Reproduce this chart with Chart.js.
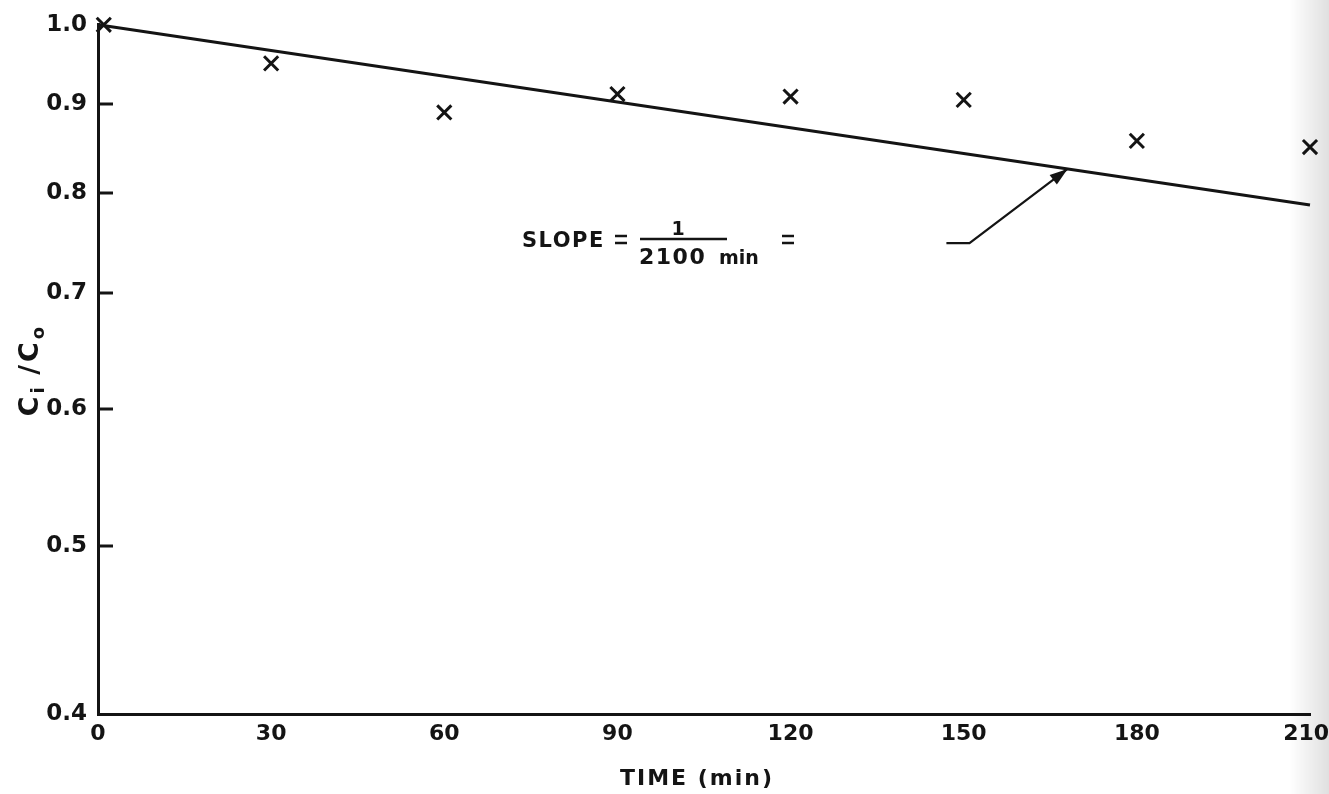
<!DOCTYPE html>
<html lang="en">
<head>
<meta charset="UTF-8">
<title>Ci/Co versus time</title>
<style>
  html, body { margin: 0; padding: 0; background: #fff; }
  body { width: 1329px; height: 794px; overflow: hidden; position: relative; }
  #edge { position: absolute; right: 0; top: 0; width: 40px; height: 794px;
          background: linear-gradient(to right, rgba(0,0,0,0), rgba(0,0,0,0.12));
          pointer-events: none; }
</style>
</head>
<body>
<canvas id="chart" width="1329" height="794"></canvas>
<div id="edge"></div>
<script src="https://cdn.jsdelivr.net/npm/chart.js@4.4.1/dist/chart.umd.min.js"></script>
<script>
// measured ratios (X marks)
const times = [1, 30, 60, 90, 120, 150, 180, 210];
const ratios = [1.0, 0.95, 0.89, 0.912, 0.909, 0.905, 0.857, 0.850];
// fitted straight line on the log axis
const fitTimes = [0, 210];
const fitRatios = [1.0, 0.787];
const xTicks = [0, 30, 60, 90, 120, 150, 180, 210];
const yTicks = [0.4, 0.5, 0.6, 0.7, 0.8, 0.9, 1.0];
const innerTicks = [0.5, 0.6, 0.7, 0.8, 0.9];

const INK = '#141414';
const FONT = '"DejaVu Sans", sans-serif';

// value of the fitted line at time t (straight on a log axis)
function fitAt(t) {
    const a = Math.log(fitRatios[0]), b = Math.log(fitRatios[1]);
    return Math.exp(a + (b - a) * (t - fitTimes[0]) / (fitTimes[1] - fitTimes[0]));
}

// small hand-lettered style equals sign
function equals(ctx, cx, cy) {
    ctx.lineWidth = 2.5;
    ctx.beginPath();
    ctx.moveTo(cx - 6, cy - 3.5); ctx.lineTo(cx + 6, cy - 3.5);
    ctx.moveTo(cx - 6, cy + 3.5); ctx.lineTo(cx + 6, cy + 3.5);
    ctx.stroke();
}

const extras = {
    id: 'extras',
    afterDraw(chart) {
        const ctx = chart.ctx;
        const x = chart.scales.x, y = chart.scales.y;
        const area = chart.chartArea;
        ctx.save();
        ctx.strokeStyle = INK;
        ctx.fillStyle = INK;

        // short tick marks pointing into the plot
        ctx.lineWidth = 3;
        innerTicks.forEach(v => {
            const py = Math.round(y.getPixelForValue(v));
            ctx.beginPath();
            ctx.moveTo(area.left, py);
            ctx.lineTo(area.left + 15, py);
            ctx.stroke();
        });

        // x axis title
        ctx.textBaseline = 'alphabetic';
        ctx.textAlign = 'center';
        ctx.font = 'bold 22px ' + FONT;
        ctx.letterSpacing = '2px';
        ctx.fillText('TIME (min)', 697, 785);

        // y axis title: Ci / Co with subscripts, rotated
        ctx.save();
        ctx.translate(29, 370);
        ctx.rotate(-Math.PI / 2);
        ctx.textAlign = 'left';
        ctx.letterSpacing = '0px';
        const parts = [
            ['C', 27, 0], ['i', 18, 6], [' /', 27, 0], ['C', 27, 0], ['o', 18, 6]
        ];
        let total = 0;
        parts.forEach(p => { ctx.font = 'bold ' + p[1] + 'px ' + FONT; total += ctx.measureText(p[0]).width + 3; });
        let cx = -total / 2;
        parts.forEach(p => {
            ctx.font = 'bold ' + p[1] + 'px ' + FONT;
            ctx.fillText(p[0], cx, 9 + p[2]);
            cx += ctx.measureText(p[0]).width + 3;
        });
        ctx.restore();

        // slope note with leader arrow onto the fitted line
        const tailX = x.getPixelForValue(147), tailY = y.getPixelForValue(0.748);
        const kneeX = x.getPixelForValue(151);
        const tipX = x.getPixelForValue(168), tipY = y.getPixelForValue(fitAt(168));

        ctx.lineWidth = 2.2;
        ctx.beginPath();
        ctx.moveTo(tailX, tailY);
        ctx.lineTo(kneeX, tailY);
        ctx.lineTo(tipX, tipY);
        ctx.stroke();
        const ang = Math.atan2(tipY - tailY, tipX - kneeX);
        const len = 18, half = 6;
        ctx.beginPath();
        ctx.moveTo(tipX, tipY);
        ctx.lineTo(tipX - len * Math.cos(ang) + half * Math.sin(ang), tipY - len * Math.sin(ang) - half * Math.cos(ang));
        ctx.lineTo(tipX - len * Math.cos(ang) - half * Math.sin(ang), tipY - len * Math.sin(ang) + half * Math.cos(ang));
        ctx.closePath();
        ctx.fill();

        ctx.textAlign = 'left';
        ctx.font = 'bold 21px ' + FONT;
        ctx.letterSpacing = '1.5px';
        ctx.fillText('SLOPE', 522, 247);
        equals(ctx, 621, 239.5);

        // fraction 1 / 2100 min
        ctx.lineWidth = 2.5;
        ctx.beginPath();
        ctx.moveTo(640, 239);
        ctx.lineTo(727, 239);
        ctx.stroke();
        ctx.textAlign = 'center';
        ctx.font = 'bold 19px ' + FONT;
        ctx.letterSpacing = '0px';
        ctx.fillText('1', 678, 235);
        ctx.textAlign = 'left';
        ctx.font = 'bold 22px ' + FONT;
        ctx.letterSpacing = '1.5px';
        ctx.fillText('2100', 639, 264);
        ctx.font = 'bold 19px ' + FONT;
        ctx.letterSpacing = '0px';
        ctx.fillText('min', 719, 264);
        equals(ctx, 788, 239.5);

        ctx.restore();
    }
};

new Chart(document.getElementById('chart'), {
    type: 'scatter',
    data: {
        datasets: [
            {
                type: 'line',
                data: fitTimes.map((t, i) => ({ x: t, y: fitRatios[i] })),
                borderColor: INK,
                borderWidth: 3,
                pointRadius: 0,
                clip: false
            },
            {
                data: times.map((t, i) => ({ x: t, y: ratios[i] })),
                pointStyle: 'crossRot',
                pointRadius: 10,
                borderColor: INK,
                borderWidth: 3,
                clip: false
            }
        ]
    },
    plugins: [extras],
    options: {
        responsive: false,
        devicePixelRatio: 1,
        animation: false,
        layout: { padding: { top: 24, right: 19, left: 0, bottom: 0 } },
        plugins: { legend: { display: false }, tooltip: { enabled: false } },
        scales: {
            x: {
                type: 'linear',
                min: 0,
                max: 210,
                afterBuildTicks: s => { s.ticks = xTicks.map(v => ({ value: v })); },
                afterFit: s => { s.height = 80; s.paddingLeft = 0; s.paddingRight = 0; },
                grid: { display: false, drawTicks: false },
                border: { display: true, color: INK, width: 3 },
                ticks: {
                    color: INK,
                    font: { family: FONT, size: 22, weight: 'bold' },
                    padding: 7,
                    maxRotation: 0,
                    autoSkip: false,
                    // last label nudged left so it stays on the page
                    callback: v => v === 210 ? '210 ' : String(v)
                }
            },
            y: {
                type: 'logarithmic',
                min: 0.4,
                max: 1.0,
                afterBuildTicks: s => { s.ticks = yTicks.map(v => ({ value: v })); },
                afterFit: s => { s.width = 98; },
                grid: { display: false, drawTicks: false },
                border: { display: true, color: INK, width: 3 },
                ticks: {
                    color: INK,
                    font: { family: FONT, size: 23, weight: 'bold' },
                    padding: 11,
                    callback: v => Number(v).toFixed(1)
                }
            }
        }
    }
});
</script>
</body>
</html>
